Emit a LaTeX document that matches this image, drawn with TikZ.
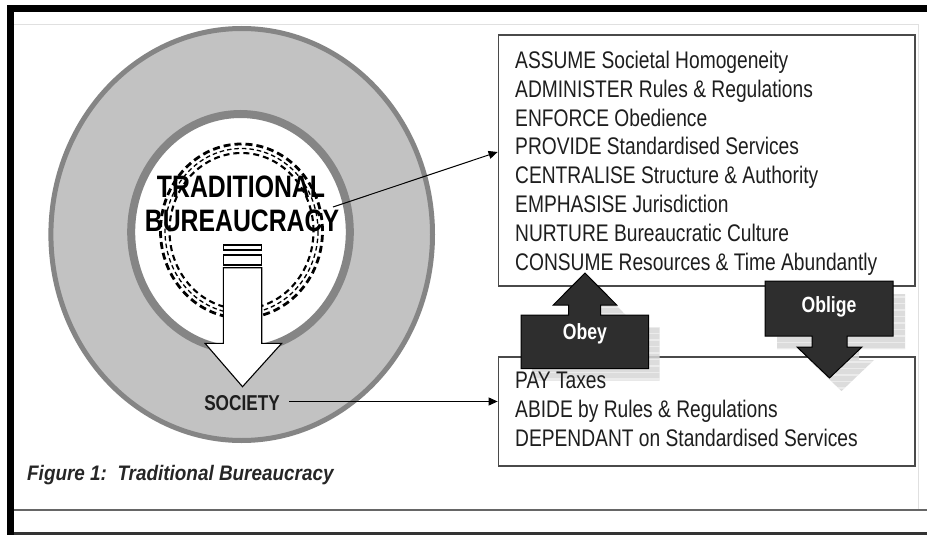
\documentclass[tikz,border=0pt]{standalone}
\usepackage{fontspec}
\setmainfont{Liberation Sans}
\newfontfamily\nar[FakeStretch=0.8]{Liberation Sans}
\newfontfamily\capfont[FakeStretch=0.9]{Liberation Sans}
\usetikzlibrary{arrows.meta}
\definecolor{ringfill}{HTML}{C2C2C2}
\definecolor{ringline}{HTML}{858585}
\definecolor{boxline}{HTML}{4A4A4A}
\definecolor{darkfill}{HTML}{2E2E2E}
\definecolor{txt}{HTML}{1E1E1E}
\definecolor{shadowgray}{HTML}{D6D6D6}
\tikzset{
  title/.style={font=\nar\bfseries\fontsize{31}{31}\selectfont, inner sep=0pt, anchor=base, text=black},
  soctext/.style={font=\nar\bfseries\fontsize{21.5}{21.5}\selectfont, inner sep=0pt, anchor=base, text=txt},
  dashthick/.style={line width=2.8pt, dash pattern=on 7pt off 4pt},
  dashthin/.style={line width=1.3pt, dash pattern=on 4.5pt off 3pt},
  dashmid/.style={line width=2.1pt, dash pattern=on 6pt off 4pt},
  bigarrow/.style={fill=white, draw=black, line width=1.1pt},
  conn/.style={draw=black, line width=1pt, -{Triangle[length=9pt,width=8pt]}},
  box/.style={draw=boxline, line width=1.3pt, fill=white, inner sep=0pt},
  item/.style={anchor=base west, font=\nar\fontsize{24}{28}\selectfont, text=txt, inner sep=0pt},
  shadowfill/.style={fill=shadowgray, opacity=0.85},
  stripe/.style={draw=white, line width=1.6pt, opacity=0.45},
  blockarrow/.style={fill=darkfill, draw=black, line width=1pt},
  lbl/.style={anchor=base, font=\nar\bfseries\fontsize{22}{22}\selectfont, text=white, inner sep=0pt},
  captext/.style={anchor=base west, font=\capfont\bfseries\itshape\fontsize{21}{21}\selectfont, text=black!85, inner sep=0pt}
}
\begin{document}
\begin{tikzpicture}[x=1pt,y=-1pt]
\useasboundingbox (0,0) rectangle (927,535);
\fill[white] (0,0) rectangle (927,535);
% frame
\draw[black!12, line width=0.8pt] (14,24) -- (918,24) -- (918,510);
\draw[black!60, line width=1.2pt] (14,510) -- (927,510);
\fill[black] (6.7,5) rectangle (927,11.7);
\fill[black] (6.7,5) rectangle (14,535);
\fill[black!80] (14,532.3) rectangle (927,535);
% rings
\draw[fill=ringfill, draw=ringline, line width=5pt] (241.7,234.5) ellipse [x radius=190.8pt, y radius=206pt];
\draw[fill=white, draw=ringline, line width=8pt] (240.5,232) ellipse [x radius=109.3pt, y radius=118pt];
% title
\node[title] (trad) at (241,197.3) {TRADITIONAL};
\node[title] (bur) at (242,231.8) {BUREAUCRACY};
% dashed rings
\draw[dashthick] (241.5,231) ellipse [x radius=81pt, y radius=87pt];
\draw[dashthin] (241.5,231) ellipse [x radius=76.5pt, y radius=82.5pt];
\draw[dashmid] (241.5,231) ellipse [x radius=72pt, y radius=78pt];
% big arrow
\draw[bigarrow] (223.3,245) rectangle (261.7,250);
\draw[bigarrow] (223.3,255) rectangle (261.7,265);
\draw[bigarrow] (223.3,267.7) -- (261.7,267.7) -- (261.7,343.3) -- (281.7,343.3) -- (242.5,386.7) -- (205,343.3) -- (223.3,343.3) -- cycle;
\node[soctext] (society) at (242,410.2) {SOCIETY};
% boxes
\node[box, minimum width=416.7pt, minimum height=251pt] (topbox) at (706.6,160.5) {};
\node[box, minimum width=416.7pt, minimum height=109pt] (botbox) at (706.6,411.5) {};
% connectors
\coordinate (c1) at (333,207);
\draw[conn] (c1) -- ([yshift=8.5pt]topbox.west);
\coordinate (c2) at (289,401.5);
\draw[conn] (c2) -- (c2 -| botbox.west);
% shadows (striped)
\begin{scope}[shift={(11,12)}]
  \begin{scope}
    \clip (585,273) -- (616.7,305) -- (600.5,305) -- (600.5,315) -- (648.5,315) -- (648.5,368.5) -- (521,368.5) -- (521,315) -- (568.5,315) -- (568.5,305) -- (553.3,305) -- cycle;
    \fill[shadowfill] (515,268) rectangle (655,375);
    \foreach \k in {0,...,16} \draw[stripe] (515,{276+6.5*\k}) -- (655,{276+6.5*\k});
  \end{scope}
\end{scope}
\begin{scope}[shift={(12,13)}]
  \begin{scope}
    \clip (765,281) -- (893,281) -- (893,336) -- (847,336) -- (847,347) -- (862,347) -- (829.5,378) -- (797,347) -- (812,347) -- (812,336) -- (765,336) -- cycle;
    \fill[shadowfill] (760,276) rectangle (900,385);
    \foreach \k in {0,...,16} \draw[stripe] (760,{284+6.5*\k}) -- (900,{284+6.5*\k});
  \end{scope}
\end{scope}
% box texts
\foreach \t [count=\i from 0] in {ASSUME Societal Homogeneity, ADMINISTER Rules \& Regulations, ENFORCE Obedience, PROVIDE Standardised Services, CENTRALISE Structure \& Authority, EMPHASISE Jurisdiction, NURTURE Bureaucratic Culture, CONSUME Resources \& Time Abundantly}
  \node[item] (top\i) at (515,{68.3+28.85*\i}) {\t};
\foreach \t [count=\i from 0] in {PAY Taxes, ABIDE by Rules \& Regulations, DEPENDANT on Standardised Services}
  \node[item] (bot\i) at (515,{388.5+29*\i}) {\t};
% block arrows
\draw[blockarrow] (585,273) -- (616.7,305) -- (600.5,305) -- (600.5,315) -- (648.5,315) -- (648.5,368.5) -- (521,368.5) -- (521,315) -- (568.5,315) -- (568.5,305) -- (553.3,305) -- cycle;
\draw[blockarrow] (765,281) -- (893,281) -- (893,336) -- (847,336) -- (847,347) -- (862,347) -- (829.5,378) -- (797,347) -- (812,347) -- (812,336) -- (765,336) -- cycle;
\node[lbl] (obey) at (585,339.5) {Obey};
\node[lbl] (oblige) at (829,312) {Oblige};
% caption
\node[captext] (cap) at (27,480) {Figure 1:\ \ Traditional Bureaucracy};
\end{tikzpicture}
\end{document}
